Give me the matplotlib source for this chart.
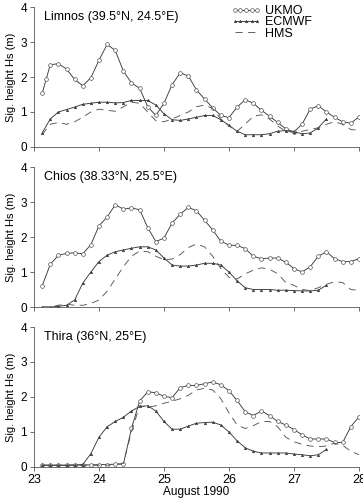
import numpy as np
import matplotlib
matplotlib.use('Agg')
import matplotlib.pyplot as plt

plt.rcParams['font.family'] = ['Liberation Sans', 'DejaVu Sans']

## 3-hourly output times, 23.125 .. 28.0 August 1990
times = 23.125 + 0.125 * np.arange(40)
ecmwf_times = times[:36]   # ECMWF stops at 27.5

stations = ['Limnos (39.5°N, 24.5°E)', 'Chios (38.33°N, 25.5°E)', 'Thira (36°N, 25°E)']

limnos_ukmo = [1.53, 1.94, 2.35, 2.38, 2.23, 1.93, 1.75, 1.98, 2.48, 2.93, 2.76, 2.17, 1.83, 1.68,
               1.15, 0.90, 1.25, 1.78, 2.12, 2.03, 1.63, 1.37, 1.12, 0.90, 0.84, 1.14, 1.35, 1.25,
               1.05, 0.88, 0.70, 0.52, 0.43, 0.65, 1.08, 1.18, 1.00, 0.85, 0.72, 0.68, 0.86]
limnos_ukmo_times = np.insert(times, 1, 23.1875)  # one extra record early on
limnos_ecmwf = [0.40, 0.80, 1.00, 1.07, 1.14, 1.22, 1.25, 1.28, 1.28, 1.26, 1.27, 1.33, 1.33, 1.33,
                1.20, 0.95, 0.78, 0.76, 0.80, 0.85, 0.90, 0.90, 0.78, 0.62, 0.45, 0.35, 0.35, 0.35,
                0.38, 0.45, 0.47, 0.43, 0.38, 0.40, 0.55, 0.80]
limnos_hms = [0.35, 0.65, 0.70, 0.65, 0.72, 0.85, 1.00, 1.08, 1.05, 1.02, 1.15, 1.28, 1.25, 1.00,
              0.75, 0.72, 0.80, 0.90, 1.00, 1.15, 1.20, 1.10, 0.80, 0.60, 0.45, 0.65, 0.88, 0.92,
              0.80, 0.60, 0.45, 0.42, 0.45, 0.50, 0.55, 0.65, 0.72, 0.65, 0.50, 0.48]

chios_ukmo = [0.60, 1.22, 1.48, 1.53, 1.55, 1.52, 1.78, 2.32, 2.57, 2.92, 2.80, 2.83, 2.78, 2.27,
              1.87, 1.97, 2.40, 2.65, 2.85, 2.75, 2.48, 2.20, 1.88, 1.77, 1.76, 1.67, 1.45, 1.38,
              1.40, 1.40, 1.28, 1.10, 1.00, 1.15, 1.45, 1.58, 1.38, 1.30, 1.30, 1.38]
chios_ecmwf = [0.00, 0.00, 0.02, 0.05, 0.20, 0.68, 1.00, 1.30, 1.48, 1.58, 1.63, 1.68, 1.72, 1.72,
               1.63, 1.40, 1.20, 1.17, 1.17, 1.20, 1.25, 1.25, 1.20, 1.00, 0.75, 0.55, 0.50, 0.50,
               0.50, 0.48, 0.48, 0.47, 0.46, 0.46, 0.48, 0.62]
chios_hms = [0.00, 0.00, 0.05, 0.08, 0.05, 0.05, 0.10, 0.20, 0.45, 0.80, 1.15, 1.45, 1.60, 1.58,
             1.45, 1.35, 1.37, 1.50, 1.70, 1.80, 1.72, 1.45, 1.10, 0.85, 0.80, 0.95, 1.05, 1.12,
             1.08, 0.95, 0.70, 0.62, 0.50, 0.47, 0.55, 0.65, 0.72, 0.70, 0.50, 0.48]

thira_ukmo = [0.05, 0.05, 0.05, 0.05, 0.06, 0.06, 0.06, 0.07, 0.07, 0.08, 0.08, 1.10, 1.88, 2.15,
              2.12, 2.02, 1.98, 2.27, 2.33, 2.33, 2.38, 2.43, 2.35, 2.18, 1.90, 1.58, 1.47, 1.60,
              1.47, 1.30, 1.20, 1.07, 0.92, 0.80, 0.80, 0.80, 0.70, 0.70, 1.15, 1.43]
thira_ecmwf = [0.05, 0.05, 0.05, 0.05, 0.05, 0.07, 0.38, 0.85, 1.15, 1.30, 1.42, 1.60, 1.73, 1.75,
               1.60, 1.30, 1.08, 1.08, 1.17, 1.25, 1.27, 1.28, 1.20, 1.00, 0.75, 0.55, 0.45, 0.40,
               0.40, 0.40, 0.40, 0.37, 0.35, 0.32, 0.35, 0.50]
thira_hms = [0.05, 0.05, 0.05, 0.05, 0.05, 0.05, 0.05, 0.05, 0.05, 0.08, 0.10, 1.00, 1.75, 1.70,
             1.75, 1.82, 1.88, 1.95, 2.05, 2.20, 2.25, 2.20, 1.95, 1.55, 1.20, 1.10, 1.18, 1.30,
             1.30, 1.15, 0.85, 0.72, 0.65, 0.60, 0.58, 0.60, 0.68, 0.62, 0.45, 0.35]

panels = [
    (limnos_ukmo_times, limnos_ukmo, limnos_ecmwf, limnos_hms),
    (times, chios_ukmo, chios_ecmwf, chios_hms),
    (times, thira_ukmo, thira_ecmwf, thira_hms),
]

lc = '#3a3a3a'
fig = plt.figure(figsize=(3.63, 5.01), dpi=100)
bottoms = [0.7066, 0.3872, 0.0679]

for k, (ut, ukmo, ecmwf, hms) in enumerate(panels):
    ax = fig.add_axes([0.0937, bottoms[k], 0.895, 0.2794])
    ax.plot(ut, ukmo, color=lc, lw=0.65, marker='o', ms=2.7, mfc='white', mec='#555555', mew=0.5, label='UKMO')
    ax.plot(ecmwf_times, ecmwf, color=lc, lw=0.65, marker='^', ms=1.9, mfc=lc, mec=lc, mew=0.3, label='ECMWF')
    ax.plot(times, hms, color='#555555', lw=0.65, dashes=(8, 6), label='HMS')

    ax.set_xlim(23, 28)
    ax.set_ylim(0, 4)
    ax.set_yticks([0, 1, 2, 3, 4])
    ax.set_xticks([23, 24, 25, 26, 27, 28])
    for s in ['top', 'right']:
        ax.spines[s].set_visible(False)
    for s in ['left', 'bottom']:
        ax.spines[s].set_linewidth(0.6)
        ax.spines[s].set_color('#555555')
    ax.tick_params(axis='y', labelsize=8.5, length=3, width=0.6, pad=2, color='#555555')
    ax.tick_params(axis='x', labelsize=9, length=3, width=0.6, pad=2, color='#555555',
                   labelbottom=(k == 2))
    ax.set_ylabel('Sig. height Hs (m)', fontsize=8, labelpad=3)
    ax.text(0.03, 0.93, stations[k], transform=ax.transAxes, fontsize=9, va='center', ha='left')

    if k == 0:
        ax.legend(loc='upper right', bbox_to_anchor=(0.87, 1.05), frameon=False, fontsize=9,
                  numpoints=5, handlelength=2.4, handletextpad=0.3, labelspacing=-0.05,
                  borderaxespad=0.0)
    if k == 2:
        ax.set_xlabel('August 1990', fontsize=8.5, labelpad=0)

fig.savefig('out.png', dpi=100)
